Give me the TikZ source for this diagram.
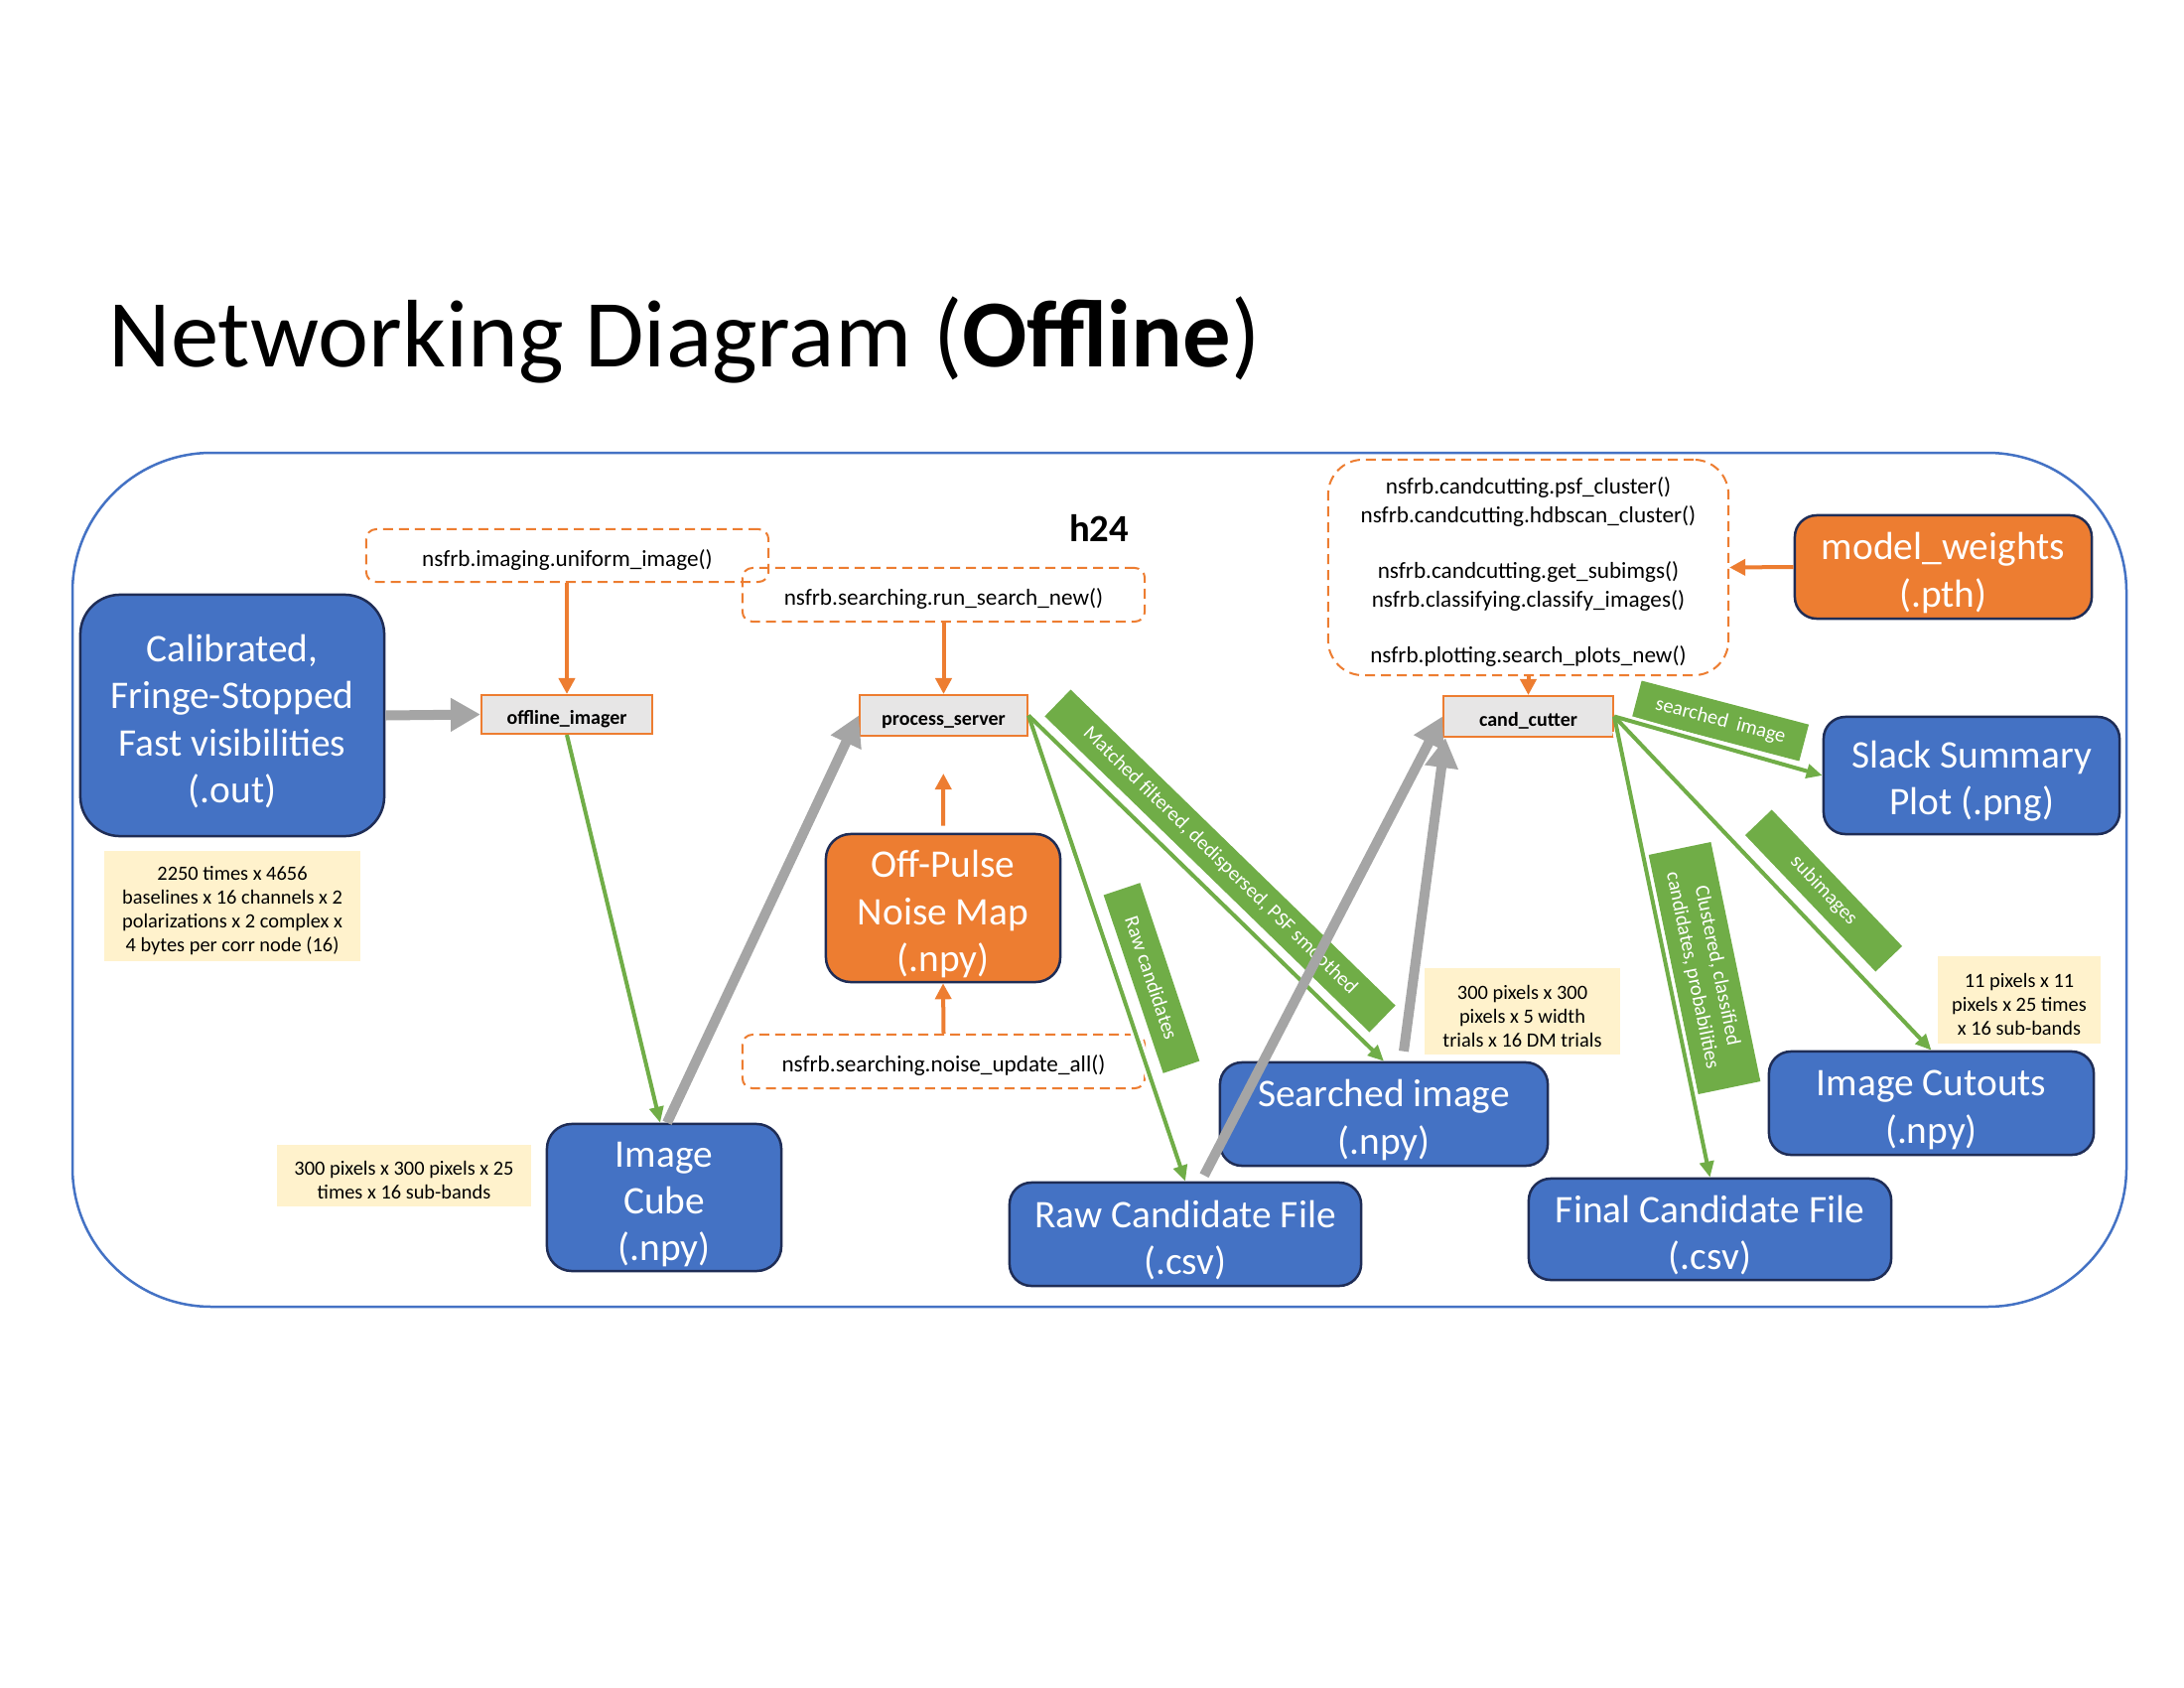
\documentclass[tikz,border=0pt]{standalone}
\usepackage{fontspec}
\setmainfont{Carlito}
\usetikzlibrary{arrows.meta,calc}
\definecolor{blu}{HTML}{4472C4}
\definecolor{navy}{HTML}{1F2D56}
\definecolor{org}{HTML}{ED7D31}
\definecolor{grn}{HTML}{70AD47}
\definecolor{gry}{HTML}{A5A5A5}
\definecolor{lgry}{HTML}{E7E6E6}
\definecolor{ylw}{HTML}{FFF2CC}
\newcommand\upstrut[1]{\rule{0pt}{#1em}}
\tikzset{
 bigbox/.style={draw=navy, line width=0.025cm, fill=blu, text=white, rounded corners=0.22cm, align=center, font=\fontsize{11.2}{13.4}\selectfont, inner sep=0pt},
 orgbox/.style={bigbox, fill=org},
 proc/.style={draw=org, line width=0.02cm, fill=lgry, font=\bfseries\fontsize{5.7}{7}\selectfont, inner sep=0pt, execute at begin node={\rule{0pt}{1.12em}}},
 codebox/.style={draw=org, dash pattern=on 0.1cm off 0.06cm, line width=0.02cm, rounded corners=0.1cm, align=center, font=\fontsize{6.6}{8.3}\selectfont, inner sep=0pt},
 note/.style={fill=ylw, align=center, font=\fontsize{5.8}{6.8}\selectfont, inner sep=0pt},
 banner/.style={fill=grn, text=white, font=\fontsize{5.8}{7}\selectfont, inner sep=0pt, align=center},
 garrow/.style={draw=grn, line width=0.04cm, -{Triangle[length=0.16cm,width=0.14cm]}, preaction={draw=white, line width=0.1cm, -, shorten >=0.25cm, shorten <=0.15cm}},
 oarrow/.style={draw=org, line width=0.04cm, -{Triangle[length=0.16cm,width=0.16cm]}},
 gyarrow/.style={draw=gry, line width=0.1cm, -{Triangle[length=0.3cm,width=0.32cm]}},
}
\begin{document}
\begin{tikzpicture}[x=0.01cm, y=-0.01cm]
\fill[white] (0,0) rectangle (2200,1700);
\useasboundingbox (0,0) rectangle (2200,1700);

% title
\node[anchor=base west, inner sep=0pt, font=\fontsize{27.5}{33}\selectfont] (title) at (109,369) {Networking Diagram (\textbf{Offline})};

% outer frame
\draw[blu, line width=0.025cm, rounded corners=1.4cm] (73,456) rectangle (2142,1316);

\node[font=\bfseries\fontsize{11}{13}\selectfont, inner sep=0pt] (h24) at (1107,532) {h24};

% code boxes
\node[codebox, minimum width=4.05cm, minimum height=0.53cm] (uniform) at (571.5,559.5) {\upstrut{1.1}nsfrb.imaging.uniform\_image()};
\node[codebox, minimum width=4.05cm, minimum height=0.54cm] (runsearch) at (950.5,599) {\upstrut{1.1}nsfrb.searching.run\_search\_new()};
\node[codebox, minimum width=4.05cm, minimum height=0.54cm] (noiseupd) at (950.5,1069) {\upstrut{1.1}nsfrb.searching.noise\_update\_all()};
\node[codebox, rounded corners=0.35cm, minimum width=4.03cm, minimum height=2.17cm] (cutterfns) at (1539.5,571.5)
 {\upstrut{1.1}nsfrb.candcutting.psf\_cluster()\\nsfrb.candcutting.hdbscan\_cluster()\\[7.6pt]nsfrb.candcutting.get\_subimgs()\\nsfrb.classifying.classify\_images()\\[7.6pt]nsfrb.plotting.search\_plots\_new()};

% process nodes
\node[proc, minimum width=1.72cm, minimum height=0.39cm] (offimg) at (571,719.5) {offline\_imager};
\node[proc, minimum width=1.69cm, minimum height=0.41cm] (procsrv) at (950.5,720.5) {process\_server};
\node[proc, minimum width=1.71cm, minimum height=0.41cm] (cutter) at (1539.5,721.5) {cand\_cutter};

% data boxes
\node[bigbox, rounded corners=0.4cm, minimum width=3.06cm, minimum height=2.43cm] (cal) at (234,720.5) {\upstrut{1.0}Calibrated,\\Fringe-Stopped\\Fast visibilities\\(.out)};
\node[orgbox, minimum width=2.99cm, minimum height=1.04cm] (model) at (1957.5,571) {\upstrut{1.0}model\_weights\\(.pth)};
\node[bigbox, minimum width=2.98cm, minimum height=1.18cm] (slack) at (1986,781) {\upstrut{1.0}Slack Summary\\Plot (.png)};
\node[orgbox, rounded corners=0.25cm, minimum width=2.36cm, minimum height=1.49cm] (offpulse) at (950,914.5) {\upstrut{1.0}Off-Pulse\\Noise Map\\(.npy)};
\node[bigbox, rounded corners=0.25cm, minimum width=2.36cm, minimum height=1.48cm] (cube) at (669,1206) {\upstrut{1.0}Image\\Cube\\(.npy)};
\node[bigbox, minimum width=3.54cm, minimum height=1.04cm] (rawcand) at (1194,1243) {\upstrut{1.0}Raw Candidate File\\(.csv)};
\node[bigbox, minimum width=3.30cm, minimum height=1.04cm] (searched) at (1394,1122) {\upstrut{1.0}Searched image\\(.npy)};
\node[bigbox, minimum width=3.65cm, minimum height=1.02cm] (finalcand) at (1722.5,1238) {\upstrut{1.0}Final Candidate File\\(.csv)};
\node[bigbox, minimum width=3.27cm, minimum height=1.04cm] (cutouts) at (1945.5,1111) {\upstrut{1.0}Image Cutouts\\(.npy)};

% notes
\node[note, minimum width=2.58cm, minimum height=1.11cm] (note1) at (234,912.5) {\upstrut{1.15}2250 times x 4656\\baselines x 16 channels x 2\\polarizations x 2 complex x\\4 bytes per corr node (16)};
\node[note, minimum width=2.56cm, minimum height=0.62cm] (note2) at (407,1184) {\upstrut{1.15}300 pixels x 300 pixels x 25\\times x 16 sub-bands};
\node[note, minimum width=1.97cm, minimum height=0.87cm] (note3) at (1533.5,1018.5) {\upstrut{1.15}300 pixels x 300\\pixels x 5 width\\trials x 16 DM trials};
\node[note, minimum width=1.64cm, minimum height=0.88cm] (note4) at (2034,1007) {\upstrut{1.15}11 pixels x 11\\pixels x 25 times\\x 16 sub-bands};

% banners
\node[banner, rotate=-44.2, minimum width=4.56cm, minimum height=0.375cm] (bmatch) at (1229,867) {Matched filtered, dedispersed, PSF smoothed};
\node[banner, rotate=-71.5, minimum width=1.89cm, minimum height=0.386cm] (braw) at (1160,985) {Raw candidates};
\node[banner, rotate=-14.7, minimum width=1.74cm, minimum height=0.38cm] (bsearch) at (1733,726) {searched~ image};
\node[banner, rotate=-78.3, minimum width=2.46cm, minimum height=0.64cm, font=\fontsize{5.8}{7.2}\selectfont] (bclust) at (1717,975) {Clustered, classified\\candidates, probabilities};
\node[banner, rotate=-46.3, minimum width=1.90cm, minimum height=0.37cm] (bsub) at (1837,897) {subimages};

% green connectors
\draw[garrow] (offimg.south) -- ([xshift=-0.04cm]cube.north);
\draw[garrow] (procsrv.east) -- (rawcand.north);
\draw[garrow] (procsrv.east) -- (searched.north);
\draw[garrow] (cutter.east) -- (slack.west);
\draw[garrow] (cutter.east) -- (finalcand.north);
\draw[garrow] (cutter.east) -- (cutouts.north);

% orange connectors
\draw[oarrow] (uniform.south -| offimg.north) -- (offimg.north);
\draw[oarrow] (runsearch.south) -- (procsrv.north);
\draw[oarrow] (noiseupd.north) -- (offpulse.south);
\draw[oarrow, shorten <=0.07cm, shorten >=0.37cm] (offpulse.north) -- (procsrv.south);
\draw[oarrow] (cutterfns.south) -- (cutter.north);
\draw[oarrow] (model.west) -- (cutterfns.east);

% gray connectors
\draw[gyarrow] (cal.east) -- (offimg.west);
\draw[gyarrow] ([xshift=0.03cm]cube.north) -- (procsrv.west);
\draw[gyarrow] ([xshift=0.19cm,yshift=0.06cm]rawcand.north) -- (cutter.west);
\draw[gyarrow] ([xshift=0.2cm,yshift=0.1cm]searched.north) -- ([xshift=0.03cm]cutter.south west);
\end{tikzpicture}
\end{document}
